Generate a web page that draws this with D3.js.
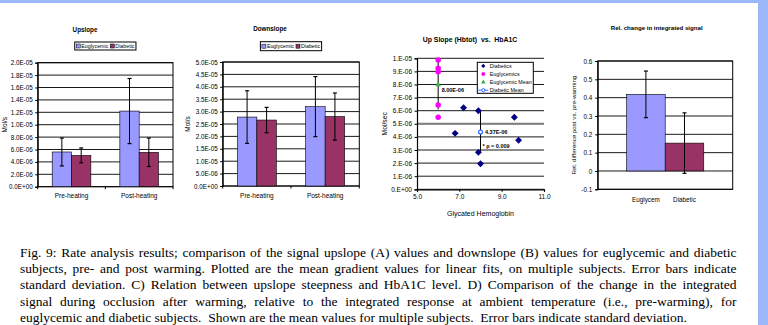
<!DOCTYPE html>
<html><head><meta charset="utf-8">
<script src="https://cdn.jsdelivr.net/npm/d3@7"></script>
<style>body{margin:0;background:#fff}svg{display:block}</style>
</head><body>
<svg id="c" width="768" height="325"></svg>
<script>
// ---------------- DATA ----------------
const seriesNames = ["Euglycemic", "Diabetic"];
const phaseCats = ["Pre-heating", "Post-heating"];

// A) Upslope (Mol/s)
const upEuMean = [5.6e-6, 1.22e-5];
const upEuSD   = [2.25e-6, 5.25e-6];
const upDiMean = [5.05e-6, 5.55e-6];
const upDiSD   = [1.2e-6, 2.3e-6];
const upTicks  = [0, 2e-6, 4e-6, 6e-6, 8e-6, 1e-5, 1.2e-5, 1.4e-5, 1.6e-5, 1.8e-5, 2e-5];

// B) Downslope (Mol/s)
const downEuMean = [2.78e-5, 3.2e-5];
const downEuSD   = [1.06e-5, 1.21e-5];
const downDiMean = [2.66e-5, 2.8e-5];
const downDiSD   = [5.1e-6, 9.5e-6];
const downTicks  = [0, 5e-6, 1e-5, 1.5e-5, 2e-5, 2.5e-5, 3e-5, 3.5e-5, 4e-5, 4.5e-5, 5e-5];

// C) Up slope vs HbA1C
const diabHbA1c = [6.8, 7.2, 7.9, 7.9, 8.0, 9.6, 9.8];
const diabUp    = [4.27e-6, 6.23e-6, 6.0e-6, 2.82e-6, 1.95e-6, 5.5e-6, 3.74e-6];
const eugHbA1c  = [6.0, 6.0, 6.0, 6.0, 6.0];
const eugUp     = [9.87e-6, 9.24e-6, 8.98e-6, 6.43e-6, 5.5e-6];
const eugMean   = [6.0, 8.0e-6];   const eugMeanSD = 1.9e-6;
const diabMean  = [8.0, 4.37e-6];  const diabMeanSD = 1.6e-6;
const pValueText = "* p = 0.009";
const refLine   = 5e-6;
const cTicksY   = [0, 1e-6, 2e-6, 3e-6, 4e-6, 5e-6, 6e-6, 7e-6, 8e-6, 9e-6, 1e-5];
const cTicksX   = [5, 7, 9, 11];
const cLegend   = ["Diabetics", "Euglycemics", "Euglycemic Mean", "Diabetic Mean"];

// D) Relative change in integrated signal
const relCats = ["Euglycem", "Diabetic"];
const relMean = [0.418, 0.152];
const relSD   = [0.127, 0.165];
const relTicks = [-0.1, 0, 0.1, 0.2, 0.3, 0.4, 0.5, 0.6];

const captionLines = [
  "Fig. 9: Rate analysis results; comparison of the signal upslope (A) values and downslope (B) values for euglycemic and diabetic",
  "subjects, pre- and post warming.  Plotted are the mean gradient values for linear fits, on multiple subjects. Error bars indicate",
  "standard deviation.  C) Relation between upslope steepness and HbA1C level.  D) Comparison of the change in the integrated",
  "signal during occlusion after warming, relative to the integrated response at ambient temperature (i.e., pre-warming), for",
  "euglycemic and diabetic subjects.  Shown are the mean values for multiple subjects.  Error bars indicate standard deviation."
];

// ---------------- STYLE ----------------
const SANS = '"Liberation Sans", Arial, sans-serif';
const SERIF = '"Liberation Serif", "Times New Roman", serif';
const EU_COL = "#9999ff", DI_COL = "#993366", STRIP = "#9db7fb";

const svg = d3.select("#c");
svg.append("rect").attr("width", 768).attr("height", 325).attr("fill", "#fff");
svg.append("rect").attr("x", 0).attr("y", 0).attr("width", 768).attr("height", 3).attr("fill", STRIP);
svg.append("rect").attr("x", 758).attr("y", 0).attr("width", 10).attr("height", 325).attr("fill", STRIP);

function fmtE(v, dec) {
  if (v === 0) return (0).toFixed(dec) + (dec === 0 ? "." : "") + "E+00";
  let e = Math.floor(Math.log10(Math.abs(v)) + 1e-9);
  let m = v / Math.pow(10, e);
  if (Math.abs(+m.toFixed(dec)) >= 10) { e += 1; m = v / Math.pow(10, e); }
  const ms = m.toFixed(dec) + (dec === 0 ? "." : "");
  return ms + "E" + (e < 0 ? "-" : "+") + String(Math.abs(e)).padStart(2, "0");
}

function styleAxis(ax, fs) {
  ax.attr("font-family", SANS).attr("font-size", fs);
  ax.selectAll("text").attr("fill", "#000");
  ax.selectAll("line").attr("stroke", "#000");
  ax.select(".domain").attr("stroke", "#000");
}

function errBar(g, cx, yTop, yBot, cap) {
  g.append("line").attr("x1", cx).attr("x2", cx).attr("y1", yTop).attr("y2", yBot)
    .attr("stroke", "#000").attr("stroke-width", 1);
  if (cap) {
    [yTop, yBot].forEach(yy => g.append("line").attr("x1", cx - cap / 2).attr("x2", cx + cap / 2)
      .attr("y1", yy).attr("y2", yy).attr("stroke", "#000").attr("stroke-width", 1.2));
  }
}

// ---------- grouped bar panel (A, B) ----------
function barPanel(o) {
  const g = svg.append("g");
  const y = d3.scaleLinear().domain([o.ticks[0], o.ticks[o.ticks.length - 1]]).range([o.bottom, o.top]);
  const x0 = d3.scaleBand().domain(phaseCats).range([o.left, o.right]);
  const bw = x0.bandwidth() / 3.5;
  const x1 = d3.scaleBand().domain(seriesNames).range([0, 2 * bw]);
  g.selectAll(null).data(o.ticks).join("line")
    .attr("x1", o.left).attr("x2", o.right).attr("y1", d => y(d)).attr("y2", d => y(d))
    .attr("stroke", "#000").attr("stroke-width", 0.9);
  g.append("rect").attr("x", o.left).attr("y", o.top).attr("width", o.right - o.left)
    .attr("height", o.bottom - o.top).attr("fill", "none").attr("stroke", "#000").attr("stroke-width", 1);
  const series = [
    { name: seriesNames[0], mean: o.euMean, sd: o.euSD, col: EU_COL },
    { name: seriesNames[1], mean: o.diMean, sd: o.diSD, col: DI_COL }
  ];
  phaseCats.forEach((c, i) => {
    series.forEach(s => {
      const bx = x0(c) + (x0.bandwidth() - 2 * bw) / 2 + x1(s.name);
      g.append("rect").attr("x", bx).attr("y", y(s.mean[i])).attr("width", bw)
        .attr("height", y(0) - y(s.mean[i])).attr("fill", s.col).attr("stroke", "#000").attr("stroke-width", 0.6);
    });
  });
  phaseCats.forEach((c, i) => {
    series.forEach(s => {
      const cx = x0(c) + (x0.bandwidth() - 2 * bw) / 2 + x1(s.name) + bw / 2;
      errBar(g, cx, y(s.mean[i] + s.sd[i]), y(s.mean[i] - s.sd[i]), 4);
    });
  });
  const ay = g.append("g").attr("transform", `translate(${o.left},0)`)
    .call(d3.axisLeft(y).tickValues(o.ticks).tickFormat(d => fmtE(d, 1)).tickSize(2.5).tickPadding(2.5));
  styleAxis(ay, 6.3);
  const ax = g.append("g").attr("transform", `translate(0,${o.bottom})`)
    .call(d3.axisBottom(x0).tickSize(0).tickPadding(7));
  styleAxis(ax, 6.5);
  ax.select(".domain").remove();
  const bounds = [o.left, ...phaseCats.map(c => x0(c) + x0.bandwidth())];
  g.selectAll(null).data(bounds).join("line").attr("x1", d => d).attr("x2", d => d)
    .attr("y1", o.bottom).attr("y2", o.bottom + 2.5).attr("stroke", "#000");
  g.append("text").attr("x", o.titleX).attr("y", o.titleY).attr("text-anchor", "middle")
    .attr("font-family", SANS).attr("font-size", 6.3).attr("font-weight", "bold").text(o.title);
  g.append("text").attr("transform", `translate(${o.ylabX},${(o.top + o.bottom) / 2}) rotate(-90)`)
    .attr("text-anchor", "middle").attr("font-family", SANS).attr("font-size", 6.5).text(o.ylab);
  const lg = g.append("g");
  const fs = 5.3, sw = 4;
  const box = lg.append("rect").attr("fill", "#fff").attr("stroke", "#000").attr("stroke-width", 1);
  let cx = 0;
  series.forEach(s => {
    lg.append("rect").attr("x", cx).attr("y", -sw / 2).attr("width", sw).attr("height", sw)
      .attr("fill", s.col).attr("stroke", "#000").attr("stroke-width", 0.5);
    const t = lg.append("text").attr("x", cx + sw + 1).attr("y", fs * 0.35).attr("font-family", SANS)
      .attr("font-size", fs).text(s.name);
    cx += sw + 1 + t.node().getComputedTextLength() + 2;
  });
  const lw = cx - 2 + 3, lh = o.legH;
  box.attr("x", -1.5).attr("y", -lh / 2).attr("width", lw).attr("height", lh);
  lg.attr("transform", `translate(${(o.left + o.right) / 2 - lw / 2 + 1.5},${o.legY})`);
}

barPanel({ left: 37.7, right: 173, top: 62.7, bottom: 186.7, ticks: upTicks,
  euMean: upEuMean, euSD: upEuSD, diMean: upDiMean, diSD: upDiSD,
  title: "Upslope", titleX: 85, titleY: 32.2, ylab: "Mol/s", ylabX: 7, legY: 46, legH: 8 });
barPanel({ left: 222.7, right: 359.3, top: 62, bottom: 186, ticks: downTicks,
  euMean: downEuMean, euSD: downEuSD, diMean: downDiMean, diSD: downDiSD,
  title: "Downslope", titleX: 270, titleY: 31.2, ylab: "Mol/s", ylabX: 190, legY: 46.2, legH: 9 });

// ---------- C: scatter ----------
(function () {
  const L = 417, R = 544, T = 58.3, B = 189.3;
  const g = svg.append("g");
  const x = d3.scaleLinear().domain([cTicksX[0], cTicksX[cTicksX.length - 1]]).range([L, R]);
  const y = d3.scaleLinear().domain([cTicksY[0], cTicksY[cTicksY.length - 1]]).range([B, T]);
  g.selectAll(null).data(cTicksY).join("line").attr("x1", L).attr("x2", R)
    .attr("y1", d => y(d)).attr("y2", d => y(d)).attr("stroke", "#000").attr("stroke-width", 0.9);
  g.append("line").attr("x1", L).attr("x2", R).attr("y1", y(refLine)).attr("y2", y(refLine))
    .attr("stroke", "#808080").attr("stroke-width", 2);
  const ay = g.append("g").attr("transform", `translate(${L},0)`)
    .call(d3.axisLeft(y).tickValues(cTicksY).tickFormat(d => fmtE(d, 0)).tickSize(2.5).tickPadding(2.5));
  styleAxis(ay, 6.5);
  ay.select(".domain").attr("stroke-width", 1.2);
  const ax = g.append("g").attr("transform", `translate(0,${B})`)
    .call(d3.axisBottom(x).tickValues(cTicksX).tickFormat(d => d.toFixed(1)).tickSize(2.5).tickPadding(3));
  styleAxis(ax, 6.5);
  ax.select(".domain").attr("stroke-width", 1.2);
  errBar(g, x(eugMean[0]), y(eugMean[1] + eugMeanSD), y(eugMean[1] - eugMeanSD), 0);
  errBar(g, x(diabMean[0]), y(diabMean[1] + diabMeanSD), y(diabMean[1] - diabMeanSD), 0);
  const circ = d3.symbol(d3.symbolCircle, 24)();
  const diam = d3.symbol(d3.symbolSquare, 24)();
  const tri = d3.symbol(d3.symbolTriangle, 14)();
  eugUp.forEach((v, i) => g.append("path").attr("d", circ)
    .attr("transform", `translate(${x(eugHbA1c[i])},${y(v)})`).attr("fill", "#ff00ff"));
  diabUp.forEach((v, i) => g.append("path").attr("d", diam)
    .attr("transform", `translate(${x(diabHbA1c[i])},${y(v)}) rotate(45)`).attr("fill", "#000080"));
  g.append("path").attr("d", tri).attr("transform", `translate(${x(eugMean[0])},${y(eugMean[1])})`)
    .attr("fill", "#33b34a");
  g.append("circle").attr("cx", x(diabMean[0])).attr("cy", y(diabMean[1])).attr("r", 2)
    .attr("fill", "#fff").attr("stroke", "#3366ff").attr("stroke-width", 1.2);
  const lab = (tx, ty, s) => g.append("text").attr("x", tx).attr("y", ty).attr("font-family", SANS)
    .attr("font-size", 5.5).attr("font-weight", "bold").style("white-space", "pre").text(s);
  lab(x(eugMean[0]) + 3.5, y(eugMean[1]) + 7.5, fmtE(eugMean[1], 2));
  lab(x(diabMean[0]) + 4.5, y(diabMean[1]) + 2, fmtE(diabMean[1], 2));
  lab(x(diabMean[0]) + 2, y(diabMean[1]) + 15.5, pValueText);
  g.append("text").attr("x", 470).attr("y", 41.5).attr("text-anchor", "middle").attr("font-family", SANS)
    .attr("font-size", 6.9).attr("font-weight", "bold").style("white-space", "pre")
    .text("Up Slope (Hbtot)  vs.  HbA1C");
  g.append("text").attr("transform", `translate(${387},${(T + B) / 2}) rotate(-90)`)
    .attr("text-anchor", "middle").attr("font-family", SANS).attr("font-size", 6.8).text("Mol/sec");
  g.append("text").attr("x", (L + R) / 2).attr("y", 215.5).attr("text-anchor", "middle")
    .attr("font-family", SANS).attr("font-size", 7).text("Glycated Hemoglobin");
  const lx = 477.3, ly = 62.3, lw = 56, lh = 31;
  g.append("rect").attr("x", lx).attr("y", ly).attr("width", lw).attr("height", lh)
    .attr("fill", "#fff").attr("stroke", "#000").attr("stroke-width", 1);
  const mx = lx + 6, tx = lx + 12.5;
  cLegend.forEach((name, i) => {
    const yy = ly + 3.6 + i * 8.1;
    if (i === 0) g.append("path").attr("d", d3.symbol(d3.symbolSquare, 9)()).attr("transform", `translate(${mx},${yy}) rotate(45)`).attr("fill", "#000080");
    if (i === 1) g.append("path").attr("d", d3.symbol(d3.symbolCircle, 12)()).attr("transform", `translate(${mx},${yy})`).attr("fill", "#ff00ff");
    if (i === 2) g.append("path").attr("d", d3.symbol(d3.symbolTriangle, 9)()).attr("transform", `translate(${mx},${yy})`).attr("fill", "#33b34a");
    if (i === 3) {
      g.append("line").attr("x1", lx + 1).attr("x2", lx + 11).attr("y1", yy).attr("y2", yy).attr("stroke", "#3366ff").attr("stroke-width", 1);
      g.append("circle").attr("cx", mx).attr("cy", yy).attr("r", 1.6).attr("fill", "#fff").attr("stroke", "#3366ff").attr("stroke-width", 1);
    }
    g.append("text").attr("x", tx).attr("y", yy + 1.9).attr("font-family", SANS).attr("font-size", 5.3).text(name);
  });
})();

// ---------- D: relative change ----------
(function () {
  const L = 597.7, R = 732.7, T = 61, B = 189.3;
  const g = svg.append("g");
  const y = d3.scaleLinear().domain([relTicks[0], relTicks[relTicks.length - 1]]).range([B, T]);
  const x0 = d3.scaleBand().domain(["all"]).range([L, R]);
  const bw = x0.bandwidth() / 3.5;
  const x1 = d3.scaleBand().domain(relCats).range([x0("all") + 0.75 * bw, x0("all") + 2.75 * bw]);
  g.selectAll(null).data(relTicks).join("line").attr("x1", L).attr("x2", R)
    .attr("y1", d => y(d)).attr("y2", d => y(d)).attr("stroke", "#000").attr("stroke-width", 0.9);
  g.append("rect").attr("x", L).attr("y", T).attr("width", R - L).attr("height", B - T)
    .attr("fill", "none").attr("stroke", "#000").attr("stroke-width", 1);
  const cols = [EU_COL, DI_COL];
  relCats.forEach((c, i) => g.append("rect").attr("x", x1(c)).attr("y", y(relMean[i]))
    .attr("width", x1.bandwidth()).attr("height", y(0) - y(relMean[i]))
    .attr("fill", cols[i]).attr("stroke", "#000").attr("stroke-width", 0.6));
  relCats.forEach((c, i) => errBar(g, x1(c) + x1.bandwidth() / 2, y(relMean[i] + relSD[i]), y(relMean[i] - relSD[i]), 4));
  const ay = g.append("g").attr("transform", `translate(${L},0)`)
    .call(d3.axisLeft(y).tickValues(relTicks).tickFormat(d => String(Math.round(d * 10) / 10)).tickSize(2.5).tickPadding(3));
  styleAxis(ay, 6.3);
  const ax = g.append("g").attr("transform", `translate(0,${B})`)
    .call(d3.axisBottom(x1).tickSize(0).tickPadding(8));
  styleAxis(ax, 6.3);
  ax.select(".domain").remove();
  g.append("text").attr("x", 656.7).attr("y", 29.8).attr("text-anchor", "middle").attr("font-family", SANS)
    .attr("font-size", 6.1).attr("font-weight", "bold").text("Rel. change in integrated signal");
  g.append("text").attr("transform", `translate(${576},${(T + B) / 2}) rotate(-90)`)
    .attr("text-anchor", "middle").attr("font-family", SANS).attr("font-size", 6.2)
    .text("Rel. difference post vs. pre-warming");
})();

// ---------- caption ----------
(function () {
  const g = svg.append("g").attr("font-family", SERIF).attr("font-size", 13.5).attr("fill", "#000");
  const x0 = 20, x1 = 736.5, base0 = 256.8, lh = 16.25;
  captionLines.forEach((line, li) => {
    const yy = base0 + li * lh;
    if (li === captionLines.length - 1) {
      g.append("text").attr("x", x0).attr("y", yy).style("white-space", "pre").text(line);
      return;
    }
    const words = line.split(/\s+/);
    const widths = words.map(w => {
      const t = g.append("text").text(w);
      const wd = t.node().getComputedTextLength();
      t.remove();
      return wd;
    });
    const gap = (x1 - x0 - d3.sum(widths)) / (words.length - 1);
    let cx = x0;
    words.forEach((w, i) => {
      g.append("text").attr("x", cx).attr("y", yy).text(w);
      cx += widths[i] + gap;
    });
  });
})();
</script>
</body></html>
